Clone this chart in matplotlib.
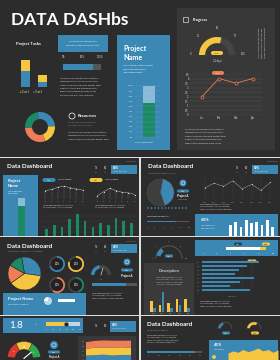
import matplotlib.pyplot as plt
import matplotlib.patches as mpatches
import numpy as np

plt.rcParams['font.family'] = ['Lato', 'DejaVu Sans']

W, H = 280, 360
BG = '#2c2c2c'
PANEL = '#383838'
BLUE = '#3b88b5'
LBLUE = '#8bbcd8'
YEL = '#f6c641'
GRN = '#1b8a62'
ORG = '#ef7e58'
RED = '#e03a2f'
LGRN = '#2fa84f'
GRAY = '#555555'
DARK = '#444444'
TXT = '#dddddd'

LOREM = ["Lorem Ipsum has been the industry's",
         "standard dummy text ever since the",
         "1500s, when an unknown printer took",
         "a galley of type and scrambled it to",
         "make a type specimen book. It has",
         "survived not only five centuries."]

# ---- data: cover slide ----
task_labels = ['Text 1', 'Text 2']
task_blue = [15, 5]
task_yellow = [11, 7]
task_progress = 78
donut_vals = [27, 20, 30, 23]
scale_labels = ['100%', '90%', '80%', '70%', '60%', '50%', '40%', '30%', '20%', '10%', '0%']
project_fill = 66
gauge_value = 58
gauge_ticks = [0, 25, 50, 75, 100]
months = ['Jan', 'Feb', 'Mar', 'Apr']
progress_vals = [2.0, 4.0, 3.5, 4.0]
progress_yticks = [0, 0.5, 1, 1.5, 2, 2.5, 3, 3.5, 4, 4.5]

# ---- data: small slides ----
a_line1 = [3.0, 3.4, 4.2, 4.6, 4.0, 3.6, 3.2]
a_line2 = [1.2, 2.6, 3.8, 3.0, 2.4, 2.2, 1.6]
a_bars = [4, 6, 5, 9, 12, 8, 5, 7, 6, 10, 8, 7]
b_pie = [58, 42]
b_line = [3.0, 4.2, 3.4, 4.8, 2.8, 3.9, 2.4, 4.4]
b_dots = list(range(12))
b_bars = [6, 8, 5, 9, 7, 8, 6, 9, 5]
b_slider = 70
c_pie = [30, 38, 18, 14]
c_rings = [70, 80, 60, 45]
c_ring_labels = ['30%', '30%', '30%', '30%']
c_gauge = 45
c_progress = 75
d_gauge = 30
d_hbars = [170, 135, 110, 100, 155, 115, 85, 145]
d_bar_yel = [5, 3, 4, 6, 6]
d_bar_blu = [2, 9, 2, 3, 2]
d_box_bar = 85
e_value = '1.8'
e_slider = 60
e_needle = 78
e_area = [[3, 3, 3.2, 3.1, 3, 3.2],
          [3, 3.4, 3.2, 3.6, 3.4, 3.3],
          [2, 2.2, 2.4, 2.0, 2.3, 2.2]]
f_progress = 88
f_gauges = [40, 65]
f_wave = [2, 2.6, 2.2, 3.0, 2.4, 2.8, 3.4, 2.6, 3.0, 2.2, 2.9]

fig = plt.figure(figsize=(2.8, 3.6), dpi=100)
fig.patch.set_facecolor('#dedede')
base = fig.add_axes([0, 0, 1, 1])
base.set_xlim(0, W)
base.set_ylim(H, 0)
base.axis('off')
base.patch.set_alpha(0)


def rect(x, y, w, h, c, r=0, z=1):
    if r:
        p = mpatches.FancyBboxPatch((x, y), w, h, boxstyle='round,pad=0,rounding_size=%s' % r,
                                    fc=c, ec='none', zorder=z)
    else:
        p = mpatches.Rectangle((x, y), w, h, fc=c, ec='none', zorder=z)
    base.add_patch(p)


def txt(x, y, s, size=1.8, color=TXT, weight='normal', ha='left', va='center', **kw):
    base.text(x, y, s, fontsize=size, color=color, fontweight=weight, ha=ha, va=va, zorder=5, **kw)


def para(x, y, n, step=3.2, size=1.7, color=TXT, ha='left'):
    for i in range(n):
        txt(x, y + i * step, LOREM[i % len(LOREM)], size=size, color=color, ha=ha)


def sub(x, y, w, h):
    ax = fig.add_axes([x / W, 1 - (y + h) / H, w / W, h / H])
    ax.axis('off')
    ax.patch.set_alpha(0)
    return ax


def ring(cx, cy, r, value, color, width=0.3, label=None):
    ax = sub(cx - r, cy - r, 2 * r, 2 * r)
    ax.pie([value, 100 - value], colors=[color, DARK], startangle=90, counterclock=False,
           wedgeprops=dict(width=width))
    ax.set_xlim(-1, 1)
    ax.set_ylim(-1, 1)
    if label:
        ax.text(0, 0, label, fontsize=1.8, color='white', ha='center', va='center')
    return ax


def pill(x, y, w, h, c, s='', tc='white'):
    rect(x - w / 2, y - h / 2, w, h, c, r=h / 2, z=4)
    if s:
        txt(x, y, s, size=1.6, color=tc, ha='center')


def half_gauge(cx, cy, r, value, color, width=0.35, bgc=DARK):
    ax = sub(cx - r * 1.05, cy - r * 1.05, r * 2.1, r * 1.1)
    ax.set_xlim(-1.05, 1.05)
    ax.set_ylim(-0.05, 1.05)
    ang = 180 - 180 * value / 100
    ax.add_patch(mpatches.Wedge((0, 0), 1, 0, ang, width=width, fc=bgc, ec='none'))
    ax.add_patch(mpatches.Wedge((0, 0), 1, ang, 180, width=width, fc=color, ec='none'))
    return ax


def head(x0, y0, boxtxt='60%'):
    txt(x0 + 7, y0 + 9, 'Data Dashboard', size=4.5, color='white', weight='bold')
    txt(x0 + 96, y0 + 10, '%', size=2, color='white', ha='center')
    txt(x0 + 105, y0 + 10, '60', size=2, color='white', ha='center')
    txt(x0 + 96, y0 + 14, 'text', size=1.3, color='#999999', ha='center')
    txt(x0 + 105, y0 + 14, 'text', size=1.3, color='#999999', ha='center')
    rect(x0 + 111, y0 + 7, 26, 9, BLUE)
    txt(x0 + 113, y0 + 10, boxtxt, size=2.2, color='white', weight='bold')
    txt(x0 + 113, y0 + 13.5, 'Lorem Ipsum text', size=1.3, color='#dddddd')
    txt(x0 + 136, y0 + 4, 'Lorem Ipsum', size=1.3, color='#999999', ha='right')


# ================= cover slide =================
rect(0, 0, 280, 157, BG)
txt(11, 20, 'DATA DASHbs', size=12.5, color='white', weight='bold')
rect(177, 8, 98, 142, PANEL)

txt(16, 44, 'Project Tasks', size=3.0, color='white', weight='bold')
rect(58, 35, 50, 17, BLUE)
txt(83, 41, 'Lorem Ipsum has been the', size=1.7, color='white', ha='center')
txt(83, 45.5, "industry's standard dummy text", size=1.7, color='white', ha='center')
for x, s in zip([64, 82, 100], ['0%', '50%', '100%']):
    txt(x, 57, s, size=1.8, ha='center')
ax = sub(63, 64, 38, 6)
ax.barh([0], [100], color=GRAY, height=1)
ax.barh([0], [task_progress], color=BLUE, height=1)
ax.set_xlim(0, 100)
ax.set_ylim(-0.5, 0.5)

ax = sub(16, 60, 36, 27)
ax.bar([0, 1], task_blue, color=BLUE, width=0.53)
ax.bar([0, 1], task_yellow, bottom=task_blue, color=YEL, width=0.53)
ax.set_xlim(-0.55, 1.55)
ax.set_ylim(0, 26)
txt(20, 92, '\u25cf', size=1.8, color=YEL)
txt(22, 92, task_labels[0], size=1.8)
txt(33, 92, '\u25cf', size=1.8, color=BLUE)
txt(35, 92, task_labels[1], size=1.8)
para(60, 78, 6, step=3.4)

ax = sub(25, 112, 30, 30)
ax.pie(donut_vals, colors=[BLUE, YEL, ORG, GRN], startangle=100, counterclock=False,
       wedgeprops=dict(width=0.47))
ax.set_xlim(-1, 1)
ax.set_ylim(-1, 1)

base.add_patch(mpatches.Circle((72, 116), 3, fc='none', ec='white', lw=0.5, zorder=4))
txt(78, 116, 'Resources', size=3.0, color='white', weight='bold')
txt(68, 122, 'Lorem Ipsum has been the', size=1.7, color='#888888')
txt(68, 125.5, "industry's dummy text", size=1.7, color='#888888')
para(68, 132, 3, step=3.4)

# project name panel
rect(117, 35, 53, 115, BLUE)
txt(123, 48, 'Project', size=5.2, color='white', weight='bold')
txt(123, 57, 'Name', size=5.2, color='white', weight='bold')
txt(123, 66, 'Lorem Ipsum is simply dummy', size=1.6, color='white')
txt(123, 69, 'text of the printing and', size=1.6, color='white')
txt(123, 72, 'typesetting industry', size=1.6, color='white')
ax = sub(143, 86, 12, 51)
ax.bar([0], [100], color=LBLUE, width=1)
ax.bar([0], [project_fill], color=GRN, width=1)
ax.set_xlim(-0.5, 0.5)
ax.set_ylim(0, 100)
for i, s in enumerate(scale_labels):
    v = 100 - 10 * i
    ax.text(-1.0, v, s, fontsize=1.6, color='white', ha='center', va='center',
            transform=ax.get_yaxis_transform())
    ax.plot([-0.6, 1.4], [v, v], color='#6fa6c6', lw=0.2, transform=ax.get_yaxis_transform(),
            clip_on=False)
base.add_patch(mpatches.Circle((149, 111), 4, fc='#1f3d36', ec='white', lw=0.4, zorder=4))
txt(149, 111, '\u263a', size=2.5, color='white', ha='center')
txt(143.5, 142, 'Lorem Ipsum text', size=1.6, color='white', ha='center')

# progress panel
base.add_patch(mpatches.Rectangle((183, 17), 5, 5, fc='none', ec='white', lw=0.4, zorder=4))
txt(193, 20, 'Progress', size=2.8, color='white', weight='bold')
ax = half_gauge(217, 55, 18, gauge_value, YEL, width=0.34, bgc='#454545')
for t in gauge_ticks:
    a = np.radians(180 - 180 * t / 100)
    ax.text(1.45 * np.cos(a), 1.45 * np.sin(a) + 0.05, str(t), fontsize=1.8, color=TXT,
            ha='center', va='center', clip_on=False)
pill(217, 53, 12, 4, YEL, '%d%%' % gauge_value, tc='#333333')
txt(217, 61, '22 days', size=1.8, ha='center')
for i in range(3):
    txt(259 + i * 3, 43, LOREM[i][:28], size=1.6, rotation=90, ha='center')

ax = sub(190, 74, 72, 41)
ax.axis('on')
for s in ax.spines.values():
    s.set_visible(False)
ax.plot(range(len(months)), progress_vals, color=ORG, lw=0.6, marker='o', ms=2.2,
        mfc=PANEL, mec=ORG, mew=0.5, zorder=3)
ax.set_xlim(-0.7, 3.54)
ax.set_ylim(0, 4.5)
ax.set_yticks(progress_yticks)
ax.set_yticklabels([('%g' % v) for v in progress_yticks])
ax.set_xticks(range(len(months)))
ax.set_xticklabels(months)
ax.tick_params(length=0, labelsize=1.8, colors=TXT, pad=1)
ax.grid(axis='y', color='#555555', lw=0.3)
ax.set_axisbelow(True)
pill(218, 73, 12, 4, ORG, '40%')
para(185, 129, 5, step=3.6, size=1.75)

# ================= small slides =================
X0 = [0, 141]
Y0 = [158, 237, 316]
for yy in Y0:
    for xx in X0:
        rect(xx, yy, 139, 78 if yy < 316 else 44, BG)

# ---- slide A ----
x0, y0 = 0, 158
head(x0, y0)
rect(3, 175, 35, 61, BLUE)
txt(8, 181, 'Project', size=3, color='white', weight='bold')
txt(8, 186, 'Name', size=3, color='white', weight='bold')
txt(8, 191, 'Lorem Ipsum text', size=1.3, color='white')
txt(8, 193.5, 'dummy text', size=1.3, color='white')
ax = sub(18, 198, 7, 38)
ax.bar([0], [100], color=LBLUE, width=1)
ax.bar([0], [80], color=GRN, width=1)
ax.set_xlim(-0.5, 0.5)
ax.set_ylim(0, 100)
base.add_patch(mpatches.Circle((21.5, 214), 2.5, fc='#1f3d36', ec='white', lw=0.3, zorder=4))
pill(49, 180, 13, 4, BLUE, 'text')
txt(58, 180, 'Lorem Ipsum', size=1.6, color='white')
pill(96, 180, 13, 4, YEL, 'text', tc='#333333')
txt(105, 180, 'Lorem Ipsum', size=1.6, color='white')
for (lx, vals) in [(43, a_line1), (95, a_line2)]:
    ax = sub(lx, 185, 42, 14)
    xs = range(len(vals))
    ax.vlines(xs, 0, vals, color='#666666', lw=0.3)
    ax.plot(xs, vals, color='#aaaaaa', lw=0.4, marker='o', ms=0.9, mfc='#dddddd', mec='none')
    ax.set_ylim(0, 5)
    ax.set_xlim(-0.4, len(vals) - 0.6)
    for i in xs:
        ax.text(i, -0.8, '%d' % (10 * (i + 1)), fontsize=1.2, color='#aaaaaa', ha='center', va='center')
para(43, 205, 2, step=2.6, size=1.4)
para(95, 205, 2, step=2.6, size=1.4)
ax = sub(42, 212, 94, 24)
ax.bar(range(len(a_bars)), a_bars, color=GRN, width=0.35)
ax.set_ylim(0, 13)
ax.set_xlim(-0.6, len(a_bars) - 0.4)
for v in range(2, 13, 3):
    ax.axhline(v, color='#444444', lw=0.3, zorder=0)

# ---- slide B ----
x0, y0 = 141, 158
head(x0, y0)
txt(148, 173, 'Lorem Ipsum has been the industry', size=1.3, color='#999999')
ax = sub(147, 179, 27, 27)
ax.pie(b_pie, colors=['#3e3e3e', BLUE], startangle=80, counterclock=True,
       wedgeprops=dict(ec='#555555', lw=0.3))
ax.set_xlim(-1, 1)
ax.set_ylim(-1, 1)
base.add_patch(mpatches.Circle((183, 183), 3.5, fc=BLUE, ec='none', zorder=4))
base.add_patch(mpatches.Circle((183, 183), 1.8, fc='none', ec='white', lw=0.3, zorder=5))
pill(183, 191, 12, 3, BLUE, 'text')
txt(183, 196.5, 'Project A', size=2, color='white', weight='bold', ha='center')
txt(183, 200, 'Lorem Ipsum', size=1.2, color='#aaaaaa', ha='center')
ax = sub(146, 206, 42, 4)
ax.scatter(b_dots, [0] * len(b_dots), s=1.5, color=BLUE, edgecolors='none')
ax.set_xlim(-0.6, len(b_dots) - 0.4)
ax.set_ylim(-1, 1)
ax = sub(200, 178, 75, 22)
xs = range(len(b_line))
ax.vlines(xs, 0, 5.5, color='#444444', lw=0.3)
ax.plot(xs, b_line, color='#999999', lw=0.4, marker='o', ms=0.8, mfc='#cccccc', mec='none')
ax.set_ylim(0, 5.5)
ax.set_xlim(-0.5, len(b_line) - 0.5)
for i in xs:
    ax.text(i, -0.6, '20%d' % (10 + i), fontsize=1.2, color='#aaaaaa', ha='center', va='center')
para(200, 204, 3, step=2.4, size=1.35)
txt(147, 216, 'Lorem Ipsum has been the', size=1.4, color='white')
ax = sub(147, 220, 42, 3)
ax.barh([0], [100], color='#555555', height=0.4)
ax.barh([0], [b_slider], color=BLUE, height=0.4)
ax.set_xlim(0, 100)
ax.set_ylim(-0.5, 0.5)
for i in range(6):
    txt(147 + i * 8.4, 227, '%d' % (i * 20), size=1.2, color='#aaaaaa', ha='center')
rect(195, 214, 83, 22, BLUE)
txt(201, 220, '60%', size=3.2, color='white', weight='bold')
txt(201, 225.5, 'Lorem Ipsum has', size=1.3, color='white')
txt(201, 228, 'been the industry', size=1.3, color='white')
ax = sub(227, 218, 49, 18)
ax.bar(range(len(b_bars)), b_bars, color='white', width=0.5)
ax.set_ylim(0, 10)
ax.set_xlim(-0.6, len(b_bars) - 0.4)

# ---- slide C ----
x0, y0 = 0, 237
head(x0, y0)
txt(8, 251, 'Lorem Ipsum has been the industry standard', size=1.3, color='#999999')
ax = sub(8, 257, 33, 33)
ax.pie(c_pie, colors=[BLUE, YEL, ORG, GRN], startangle=100, counterclock=False,
       wedgeprops=dict(ec=BG, lw=0.4))
ax.set_xlim(-1, 1)
ax.set_ylim(-1, 1)
ring_pos = [(57, 264), (76, 264), (57, 285), (76, 285)]
for (cx, cy), v, c, lab in zip(ring_pos, c_rings, [BLUE, YEL, ORG, GRN], c_ring_labels):
    base.add_patch(mpatches.Circle((cx, cy), 6, fc='#222222', ec='none', zorder=2))
    ring(cx, cy, 8, v, c, width=0.22, label=lab)
ax = half_gauge(101, 275, 10, c_gauge, BLUE, width=0.35)
ax.plot([0, 0.2], [0, 0.7], color='white', lw=0.4)
txt(101, 279, 'text', size=1.3, color='#aaaaaa', ha='center')
base.add_patch(mpatches.Circle((127, 262), 3.5, fc=BLUE, ec='none', zorder=4))
base.add_patch(mpatches.Circle((127, 262), 1.8, fc='none', ec='white', lw=0.3, zorder=5))
pill(127, 270, 12, 3, BLUE, 'text')
txt(127, 276, 'Project A', size=2, color='white', weight='bold', ha='center')
ax = sub(92, 283, 45, 3)
ax.barh([0], [100], color='#555555', height=1)
ax.barh([0], [c_progress], color=BLUE, height=1)
ax.set_xlim(0, 100)
ax.set_ylim(-0.5, 0.5)
para(92, 293, 3, step=2.6, size=1.35)
rect(3, 293, 83, 22, BLUE)
txt(8, 299, 'Project Name', size=3, color='white', weight='bold')
txt(8, 304, 'Lorem Ipsum has been the', size=1.3, color='white')
ax = sub(44, 297, 8, 8)
ax.pie([75, 25], colors=['#bcd7e8', 'white'], startangle=90, counterclock=False)
ax.set_xlim(-1, 1)
ax.set_ylim(-1, 1)
rect(58, 299, 17, 3, 'white')

# ---- slide D ----
x0, y0 = 141, 237
ax = sub(154, 244, 30, 16)
ax.set_xlim(-1.1, 1.1)
ax.set_ylim(-0.1, 1.1)
ax.add_patch(mpatches.Wedge((0, 0), 1, 0, 180, width=0.08, fc='#555555', ec='none'))
ang = 180 - 180 * d_gauge / 100
ax.add_patch(mpatches.Wedge((0, 0), 0.95, ang, 165, width=0.3, fc=BLUE, ec='none'))
for t in [0, 25, 50, 75, 100]:
    a = np.radians(180 - 180 * t / 100)
    ax.text(1.25 * np.cos(a), 1.25 * np.sin(a), str(t), fontsize=1.2, color='#aaaaaa',
            ha='center', va='center', clip_on=False)
pill(169, 256, 8, 3, BLUE, 'text')
rect(195, 240, 83, 16, BLUE)
pill(238, 244, 8, 3, '#2c3e50', 'text')
pill(266, 244, 8, 3, YEL, 'text', tc='#333333')
ax = sub(226, 247, 40, 3)
ax.barh([0], [100], color=YEL, height=1)
ax.barh([0], [d_box_bar], color='white', height=1)
ax.set_xlim(0, 100)
ax.set_ylim(-0.5, 0.5)
for i in range(6):
    txt(203 + i * 14, 253, '%d' % (i * 20), size=1.2, color='white', ha='center')
rect(144, 263, 50, 52, '#3a3a3a')
txt(169, 271, 'Description', size=3, color='white', ha='center')
for i in range(4):
    txt(169, 277 + i * 2.6, LOREM[i][:30], size=1.35, color='#bbbbbb', ha='center')
ax = sub(148, 290, 44, 22)
xs = np.arange(len(d_bar_yel))
ax.bar(xs - 0.17, d_bar_yel, color=YEL, width=0.3)
ax.bar(xs + 0.17, d_bar_blu, color=BLUE, width=0.3)
ax.set_ylim(0, 10)
ax.set_xlim(-0.6, len(xs) - 0.4)
for i in xs:
    txt(148 + 44 * (i + 0.6) / len(xs), 313, '20%d' % (15 + i), size=1.1, color='#aaaaaa', ha='center')
ax = sub(202, 260, 60, 32)
ys = np.arange(len(d_hbars))
ax.barh(ys, d_hbars, color=BLUE, height=0.45)
ax.set_ylim(len(d_hbars) - 0.4, -0.6)
ax.set_xlim(0, 180)
for v in range(0, 181, 30):
    ax.axvline(v, color='#444444', lw=0.3, zorder=0)
for i in ys:
    txt(199, 260 + 32 * (i + 0.6) / len(d_hbars), 'A%d' % (i + 1), size=1.1, color='#aaaaaa', ha='right')
pill(252, 261, 9, 3, YEL, 'text', tc='#333333')
txt(232, 296, 'Category 1', size=1.3, color='#aaaaaa', ha='center')
para(200, 301, 3, step=2.4, size=1.35)

# ---- slide E ----
x0, y0 = 0, 316
rect(3, 318, 80, 15, BLUE)
txt(9, 326, e_value, size=7, color='white')
ax = sub(46, 322, 34, 4)
ax.barh([0], [100], color='#bcd7e8', height=0.8)
ax.barh([0], [e_slider], color=YEL, height=0.8)
ax.scatter([e_slider], [0], s=8, color='#222222', edgecolors='#555555', linewidths=0.3, zorder=3)
ax.set_xlim(0, 100)
ax.set_ylim(-0.5, 0.5)
for i in range(6):
    txt(46 + i * 6.8, 330, '%d' % (i * 20), size=1.1, color='white', ha='center')
txt(38, 324, 'text', size=1.2, color='white', ha='right')
txt(96, 326, '%', size=2, color='white', ha='center')
txt(105, 326, '60', size=2, color='white', ha='center')
rect(110, 321, 26, 11, BLUE)
txt(112, 325, '60%', size=2.2, color='white', weight='bold')
txt(112, 328.5, 'Lorem Ipsum text', size=1.3, color='#dddddd')
ax = sub(6, 340, 36, 20)
ax.set_xlim(-1.1, 1.1)
ax.set_ylim(-0.1, 1.1)
for (a1, a2), c, sym in zip([(120, 175), (62, 118), (5, 60)], [RED, YEL, LGRN], ['\u2212', '\u25b2', '+']):
    ax.add_patch(mpatches.Wedge((0, 0), 1, a1, a2, width=0.45, fc=c, ec='none'))
    am = np.radians((a1 + a2) / 2)
    ax.text(0.72 * np.cos(am), 0.72 * np.sin(am), sym, fontsize=2, color='white',
            ha='center', va='center')
an = np.radians(180 - 180 * e_needle / 100)
ax.plot([0, 0.55 * np.cos(an)], [0, 0.55 * np.sin(an)], color='white', lw=0.8)
base.add_patch(mpatches.Circle((54, 345), 4, fc=BLUE, ec='none', zorder=4))
base.add_patch(mpatches.Circle((54, 345), 2, fc='none', ec='white', lw=0.3, zorder=5))
pill(54, 352, 12, 3, BLUE, 'text')
txt(54, 357, 'Project A', size=1.8, color='white', weight='bold', ha='center')
rect(78, 336, 58, 24, '#393939')
ax = sub(86, 340, 45, 20)
ax.stackplot(range(len(e_area[0])), e_area[2], e_area[1], e_area[0],
             colors=[BLUE, YEL, ORG])
ax.set_xlim(0, len(e_area[0]) - 1)
ax.set_ylim(0, 9)
for i in range(5):
    txt(84, 342 + i * 4.5, '%d' % (80 - i * 20), size=1.1, color='#aaaaaa', ha='right')

# ---- slide F ----
x0, y0 = 141, 316
txt(147, 324, 'Data Dashboard', size=4.5, color='white', weight='bold')
txt(147, 330, 'Lorem Ipsum has been the', size=1.3, color='#999999')
para(147, 335, 4, step=2.4, size=1.35)
for (cx, v, c) in [(225, f_gauges[0], BLUE), (254, f_gauges[1], YEL)]:
    ax = sub(cx - 8, 321, 16, 9)
    ax.set_xlim(-1.1, 1.1)
    ax.set_ylim(-0.1, 1.1)
    ax.add_patch(mpatches.Wedge((0, 0), 1, 0, 180, width=0.1, fc='#555555', ec='none'))
    ax.add_patch(mpatches.Wedge((0, 0), 0.95, 180 - 180 * v / 100, 170, width=0.35, fc=c, ec='none'))
pill(226, 333, 8, 3, BLUE, 'text')
pill(255, 333, 8, 3, YEL, 'text', tc='#333333')
ax = sub(147, 351, 55, 2)
ax.barh([0], [100], color='#555555', height=1)
ax.barh([0], [f_progress], color=BLUE, height=1)
ax.set_xlim(0, 100)
ax.set_ylim(-0.5, 0.5)
for i in range(6):
    txt(148 + i * 10.5, 356, '%d' % (i * 20), size=1.1, color='#aaaaaa', ha='center')
rect(209, 340, 69, 20, BLUE)
txt(214, 345, '45%', size=3, color='white', weight='bold')
txt(214, 350, 'Lorem Ipsum', size=1.3, color='white')
base.add_patch(mpatches.Circle((214, 357), 2, fc=YEL, ec='none', zorder=4))
ax = sub(228, 346, 50, 14)
ax.fill_between(range(len(f_wave)), f_wave, color=YEL, lw=0)
ax.set_xlim(0, len(f_wave) - 1)
ax.set_ylim(0, 4)

fig.savefig('out.png', dpi=100, facecolor=fig.get_facecolor())
